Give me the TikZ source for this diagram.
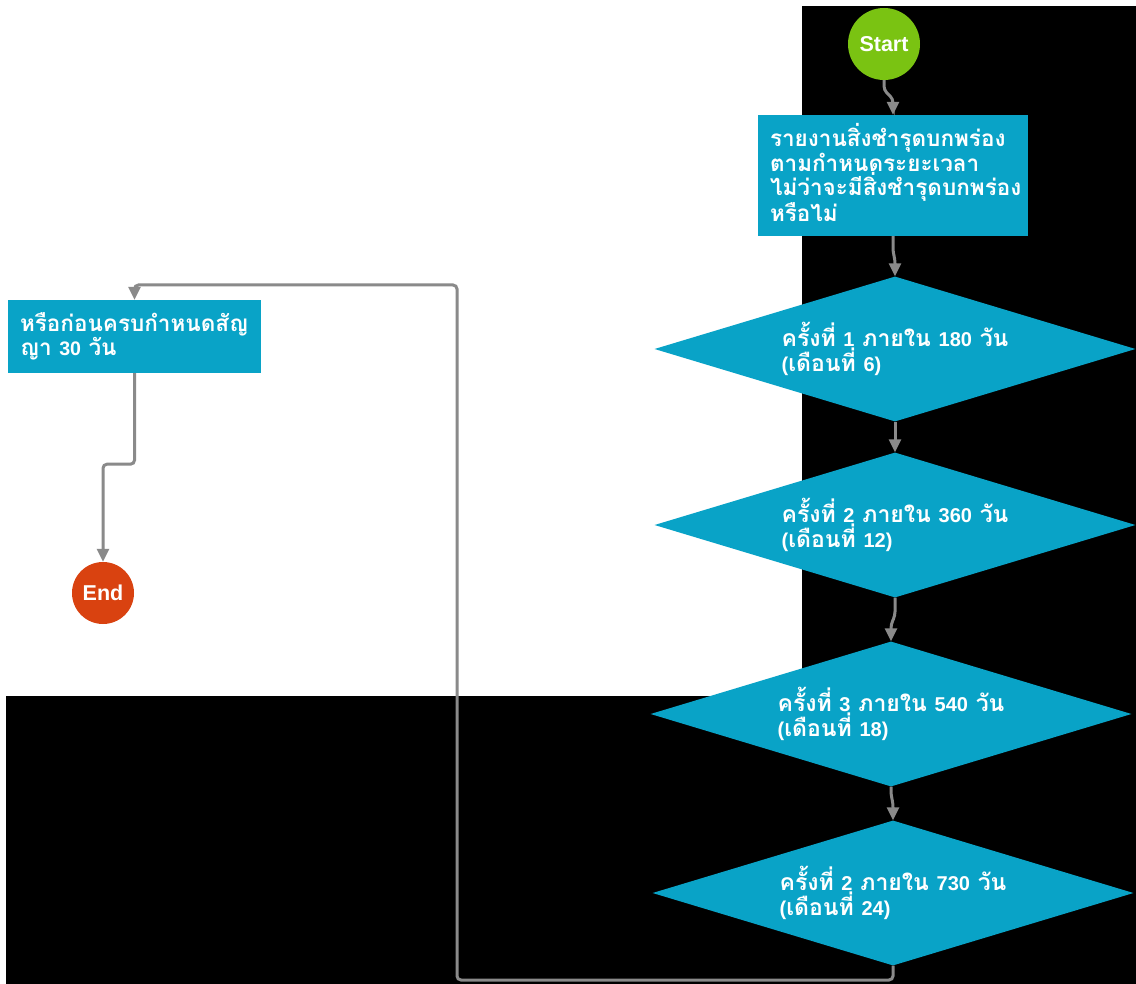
\documentclass[tikz,border=0pt]{standalone}
\usepackage{fontspec}
\setmainfont{Liberation Sans}
\newfontfamily\thaifont[Script=Thai]{Loma}
\newfontfamily\latfont{Liberation Sans}[Scale=0.87]
\newcommand{\lt}[1]{{\latfont\bfseries #1}}
\usetikzlibrary{shapes.geometric,arrows.meta,calc}
\definecolor{cyanbox}{RGB}{9,163,199}
\definecolor{startgreen}{RGB}{122,195,18}
\definecolor{endorange}{RGB}{217,66,16}
\definecolor{conngray}{RGB}{138,138,138}
\begin{document}
\begin{tikzpicture}[x=1pt,y=-1pt,
  proc/.style={rectangle, fill=cyanbox, text=white, align=left, inner xsep=12pt, inner ysep=0pt,
    font=\thaifont\bfseries\fontsize{22.5}{24}\selectfont},
  dia/.style={diamond, fill=cyanbox, text=white, align=left, inner sep=0pt, aspect=3.3,
    minimum width=481pt, minimum height=145pt, font=\thaifont\bfseries\fontsize{23}{23.5}\selectfont},
  term/.style={circle, text=white, inner sep=0pt, font=\bfseries\fontsize{21.5}{24}\selectfont},
  conn/.style={draw=conngray, line width=3pt, rounded corners=4pt,
    -{Triangle[length=13pt,width=12pt]}}
]
\useasboundingbox (0,0) rectangle (1136,984);
\fill[white] (0,0) rectangle (1136,984);
\fill[black] (802,6) rectangle (1136,984);
\fill[black] (6,696) rectangle (802,984);

\node[term, fill=startgreen, minimum size=72pt] (start) at (884,44) {Start};
\node[proc, text width=246pt, minimum height=121pt] (box1) at (893,175.5)
  {\raisebox{0pt}[0pt][0pt]{}รายงานสิ่งชำรุดบกพร่อง\\ตามกำหนดระยะเวลา\\ไม่ว่าจะมีสิ่งชำรุดบกพร่อง\\หรือไม่\vspace{6pt}};
\node[dia] (d1) at (895,349) {ครั้งที่ \lt{1} ภายใน \lt{180} วัน\\\lt{(}เดือนที่ \lt{6)}};
\node[dia] (d2) at (895,525) {ครั้งที่ \lt{2} ภายใน \lt{360} วัน\\\lt{(}เดือนที่ \lt{12)}};
\node[dia] (d3) at (891,714) {ครั้งที่ \lt{3} ภายใน \lt{540} วัน\\\lt{(}เดือนที่ \lt{18)}};
\node[dia] (d4) at (893,893) {ครั้งที่ \lt{2} ภายใน \lt{730} วัน\\\lt{(}เดือนที่ \lt{24)}};
\node[proc, text width=229pt, minimum height=73pt] (left) at (134.5,336.5)
  {หรือก่อนครบกำหนดสัญ\\ญา \lt{30} วัน};
\node[term, fill=endorange, minimum size=62pt] (end) at (103,593) {End};

\draw[conn] (start.south) -- ++(0,10) -- ($(box1.north)+(0,-16)$) -- (box1.north);
\draw[conn] (box1.south) -- ++(0,16) -- ($(d1.north)+(0,-17)$) -- (d1.north);
\draw[conn] (d1.south) -- ++(0,8) -- ($(d2.north)+(0,-17)$) -- (d2.north);
\draw[conn] (d2.south) -- ++(0,18) -- ($(d3.north)+(0,-17)$) -- (d3.north);
\draw[conn] (d3.south) -- ++(0,8) -- ($(d4.north)+(0,-17)$) -- (d4.north);
\draw[conn] (d4.south) |- (457,980) -- (457,285) -| (left.north);
\draw[conn] (left.south) -- ++(0,91) -| (end.north);
\end{tikzpicture}
\end{document}
